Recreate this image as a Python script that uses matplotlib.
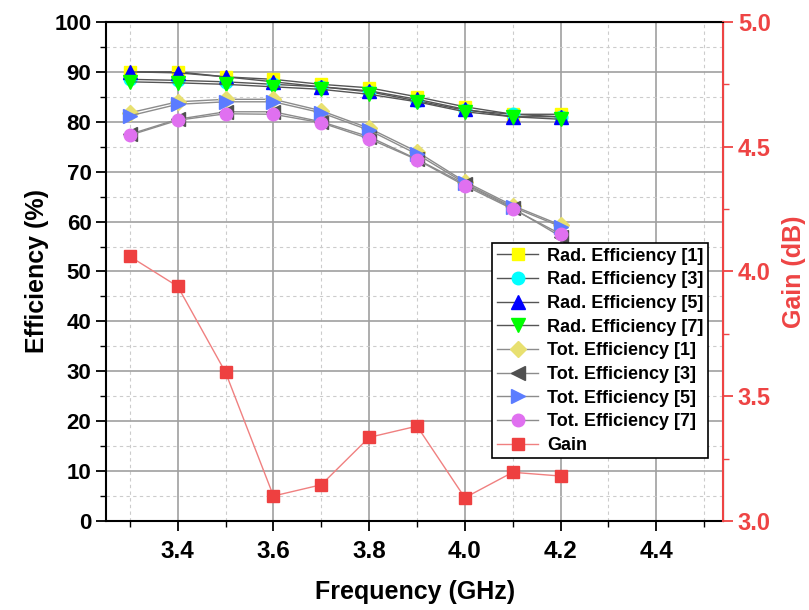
import matplotlib.pyplot as plt
from matplotlib.ticker import MultipleLocator

plt.rcParams['font.family'] = ['Liberation Sans', 'DejaVu Sans']
plt.rcParams['font.weight'] = 'bold'

freq = [3.3, 3.4, 3.5, 3.6, 3.7, 3.8, 3.9, 4.0, 4.1, 4.2]

rad_1 = [90.0, 90.0, 89.0, 88.5, 87.5, 86.8, 85.0, 83.0, 81.5, 81.5]
rad_3 = [88.5, 88.3, 88.0, 87.5, 87.0, 86.0, 84.2, 82.3, 81.5, 81.0]
rad_5 = [90.0, 89.8, 89.0, 88.0, 87.0, 86.2, 84.5, 82.5, 81.0, 81.0]
rad_7 = [88.0, 87.8, 87.5, 87.0, 86.5, 85.5, 84.0, 82.0, 81.0, 80.5]

tot_1 = [81.8, 84.0, 84.5, 84.5, 82.2, 78.7, 74.0, 68.0, 63.2, 59.3]
tot_3 = [77.5, 80.5, 82.0, 82.0, 80.0, 77.0, 72.5, 67.5, 62.7, 57.0]
tot_5 = [81.2, 83.5, 84.0, 84.0, 81.8, 78.3, 73.5, 67.7, 62.9, 59.0]
tot_7 = [77.3, 80.3, 81.6, 81.5, 79.8, 76.6, 72.4, 67.2, 62.5, 57.5]

gain = [4.06, 3.94, 3.595, 3.10, 3.145, 3.335, 3.38, 3.093, 3.195, 3.18]

fig, ax = plt.subplots(figsize=(8.09, 6.10), dpi=100)
fig.subplots_adjust(left=0.131, right=0.894, bottom=0.146, top=0.964)
ax2 = ax.twinx()

rad_line = '#555555'
tot_line = '#8c8c8c'
ms = 9

h = []
h += ax.plot(freq, rad_1, color=rad_line, lw=1, marker='s', ms=ms, mfc='#ffff00', mec='#ffff00', label='Rad. Efficiency [1]')
h += ax.plot(freq, rad_3, color=rad_line, lw=1, marker='o', ms=ms, mfc='#00ffff', mec='#00ffff', label='Rad. Efficiency [3]')
h += ax.plot(freq, rad_5, color=rad_line, lw=1, marker='^', ms=ms + 1, mfc='#0000ff', mec='#0000ff', label='Rad. Efficiency [5]')
h += ax.plot(freq, rad_7, color=rad_line, lw=1, marker='v', ms=ms + 1, mfc='#00ff00', mec='#00ff00', label='Rad. Efficiency [7]')
h += ax.plot(freq, tot_1, color=tot_line, lw=1, marker='D', ms=ms - 1, mfc='#e8e070', mec='#e8e070', label='Tot. Efficiency [1]')
h += ax.plot(freq, tot_3, color=tot_line, lw=1, marker='<', ms=ms + 1, mfc='#505050', mec='#505050', label='Tot. Efficiency [3]')
h += ax.plot(freq, tot_5, color=tot_line, lw=1, marker='>', ms=ms + 1, mfc='#5b7cff', mec='#5b7cff', label='Tot. Efficiency [5]')
h += ax.plot(freq, tot_7, color=tot_line, lw=1, marker='o', ms=ms, mfc='#e070f0', mec='#e070f0', label='Tot. Efficiency [7]')
h += ax2.plot(freq, gain, color='#f08080', lw=1, marker='s', ms=ms, mfc='#ee4040', mec='#ee4040', label='Gain')

ax.set_xlim(3.25, 4.54)
ax.set_ylim(0, 100)
ax2.set_ylim(3.0, 5.0)

ax.xaxis.set_major_locator(MultipleLocator(0.2))
ax.xaxis.set_minor_locator(MultipleLocator(0.1))
ax.yaxis.set_major_locator(MultipleLocator(10))
ax.yaxis.set_minor_locator(MultipleLocator(5))
ax2.yaxis.set_major_locator(MultipleLocator(0.5))
ax2.yaxis.set_minor_locator(MultipleLocator(0.25))

ax.grid(which='major', color='#a0a0a0', lw=1.2, ls='-')
ax.grid(which='minor', color='#cccccc', lw=0.8, ls=(0, (3, 3)))
ax.set_axisbelow(True)

ax.tick_params(axis='both', which='major', direction='out', length=7, width=1.3)
ax.tick_params(axis='both', which='minor', direction='out', length=4, width=1.0)
ax.tick_params(axis='y', labelsize=16)
ax.tick_params(axis='x', labelsize=17.5, pad=7)
ax.set_xticks([3.4, 3.6, 3.8, 4.0, 4.2, 4.4])
ax.set_xticklabels(['3.4', '3.6', '3.8', '4.0', '4.2', '4.4'])

red = '#ee4444'
ax2.tick_params(axis='y', which='major', direction='out', length=7, width=1.3, labelsize=17, colors=red)
ax2.tick_params(axis='y', which='minor', direction='out', length=4, width=1.0, colors=red)
ax2.spines['right'].set_color(red)
ax2.spines['right'].set_linewidth(1.5)
for s in ['left', 'bottom', 'top']:
    ax.spines[s].set_linewidth(1.5)
ax2.spines['left'].set_visible(False)
ax2.spines['bottom'].set_visible(False)

ax.set_xlabel('Frequency (GHz)', fontsize=18, fontweight='bold', labelpad=12)
ax.set_ylabel('Efficiency (%)', fontsize=18, fontweight='bold', labelpad=4)
ax2.set_ylabel('Gain (dB)', fontsize=18, fontweight='bold', color=red, labelpad=8)

leg = ax2.legend(handles=h, loc='upper left', bbox_to_anchor=(0.626, 0.557), fontsize=13,
                 frameon=True, fancybox=False, edgecolor='black', framealpha=1,
                 handlelength=2.3, borderpad=0.25, labelspacing=0.37, handletextpad=0.5,
                 borderaxespad=0)
leg.get_frame().set_linewidth(1.2)
for t in leg.get_texts():
    t.set_fontweight('bold')

fig.savefig('out.png', dpi=100)
